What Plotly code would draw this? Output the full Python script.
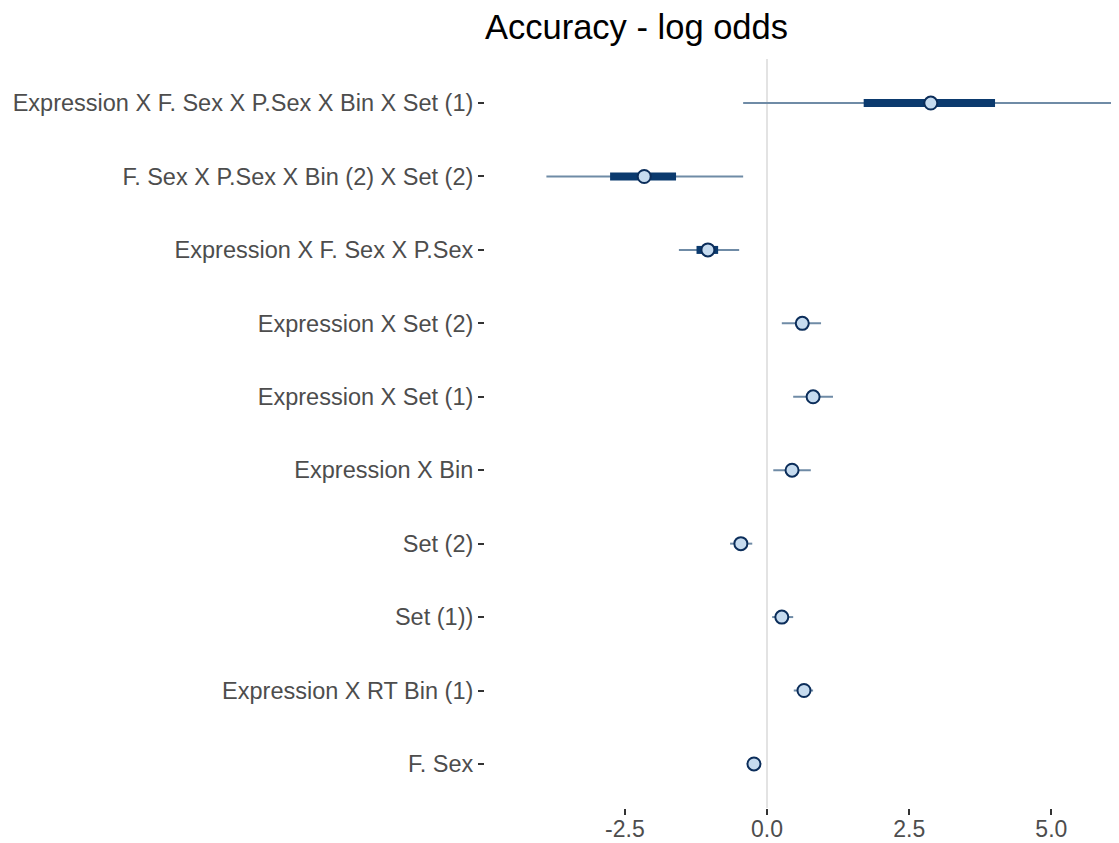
import plotly.graph_objects as go

labels = [
    "Expression X F. Sex X P.Sex X Bin X Set (1)",
    "F. Sex X P.Sex X Bin (2) X Set (2)",
    "Expression X F. Sex X P.Sex",
    "Expression X Set (2)",
    "Expression X Set (1)",
    "Expression X Bin",
    "Set (2)",
    "Set (1))",
    "Expression X RT Bin (1)",
    "F. Sex",
]
estimate = [2.88, -2.16, -1.04, 0.62, 0.81, 0.44, -0.46, 0.26, 0.65, -0.23]
inner_lo = [1.70, -2.76, -1.24, 0.53, 0.72, 0.36, -0.52, 0.20, 0.60, -0.27]
inner_hi = [4.01, -1.60, -0.86, 0.71, 0.90, 0.52, -0.40, 0.32, 0.70, -0.19]
outer_lo = [-0.42, -3.88, -1.55, 0.26, 0.46, 0.11, -0.65, 0.09, 0.47, -0.35]
outer_hi = [6.60, -0.42, -0.49, 0.95, 1.16, 0.77, -0.26, 0.46, 0.81, -0.11]
x_ticks = [-2.5, 0.0, 2.5, 5.0]
x_ticktext = ["-2.5", "0.0", "2.5", "5.0"]

ypos = list(range(len(labels)))

def segs(lo, hi):
    xs, ys = [], []
    for a, b, y in zip(lo, hi, ypos):
        xs += [a, b, None]
        ys += [y, y, None]
    return xs, ys

fig = go.Figure()
ox, oy = segs(outer_lo, outer_hi)
fig.add_trace(go.Scatter(x=ox, y=oy, mode="lines",
                         line=dict(color="#6f8ba6", width=2), hoverinfo="skip"))
ix, iy = segs(inner_lo, inner_hi)
fig.add_trace(go.Scatter(x=ix, y=iy, mode="lines",
                         line=dict(color="#0b3a6e", width=8), hoverinfo="skip"))
fig.add_trace(go.Scatter(x=estimate, y=ypos, mode="markers",
                         marker=dict(size=13, color="#c6dbef",
                                     line=dict(color="#0b2d5a", width=2))))

fig.add_vline(x=0, line=dict(color="#e3e3e3", width=2), layer="below")

# page body has an 8px margin, so the figure is drawn 8px in from the corner
fig.update_layout(
    width=1111, height=835,
    margin=dict(l=477, r=0, t=51, b=35, autoexpand=False),
    paper_bgcolor="white", plot_bgcolor="white",
    showlegend=False,
    font=dict(family="Liberation Sans, Arial, sans-serif", size=23.5, color="#4d4d4d"),
    title=dict(text="Accuracy - log odds", x=0, xref="paper", xanchor="left",
               y=1 - 19 / 835, yref="container", yanchor="middle",
               font=dict(size=34.5, color="black")),
)
fig.update_xaxes(range=[-4.96, 6.19], tickvals=x_ticks, ticktext=x_ticktext,
                 showgrid=False, zeroline=False, showline=False, automargin=False,
                 ticks="outside", ticklen=6, tickwidth=2, tickcolor="#333333",
                 ticklabelstandoff=-6, tickfont=dict(size=23))
fig.update_yaxes(range=[9.6, -0.6], tickvals=ypos, ticktext=labels,
                 showgrid=False, zeroline=False, showline=False, automargin=False,
                 ticks="outside", ticklen=6, tickwidth=2, tickcolor="#333333")

fig.write_html("out.html")
